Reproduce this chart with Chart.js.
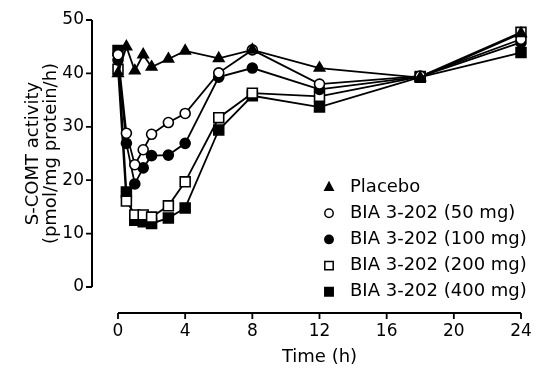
<!DOCTYPE html>
<html>
<head>
<meta charset="utf-8">
<script src="https://cdn.jsdelivr.net/npm/chart.js@4/dist/chart.umd.min.js"></script>
<style>html,body{margin:0;padding:0;background:#fff}</style>
</head>
<body>
<canvas id="graph" width="544" height="373"></canvas>
<script>
// data
const hours = [0, 0.5, 1, 1.5, 2, 3, 4, 6, 8, 12, 18, 24];
const placebo = [40, 45, 40.5, 43.5, 41.2, 42.7, 44.2, 42.8, 44.4, 41, 39.2, 47.5];
const dose50 = [43.5, 28.8, 22.9, 25.7, 28.6, 30.8, 32.5, 40.1, 44.4, 38.0, 39.5, 46.4];
const dose100 = [42.5, 26.9, 19.3, 22.3, 24.6, 24.7, 26.9, 39.3, 41.0, 37.0, 39.4, 45.8];
const dose200 = [40.8, 16.1, 13.5, 13.5, 13.1, 15.2, 19.7, 31.7, 36.3, 35.7, 39.4, 47.7];
const dose400 = [44.3, 17.8, 12.5, 12.2, 11.9, 12.9, 14.8, 29.4, 35.8, 33.7, 39.3, 43.9];
const seriesLabels = ['Placebo', 'BIA 3-202 (50 mg)', 'BIA 3-202 (100 mg)', 'BIA 3-202 (200 mg)', 'BIA 3-202 (400 mg)'];
const xTicks = [0, 4, 8, 12, 16, 20, 24];
const yTicks = [0, 10, 20, 30, 40, 50];

const FONT = '"DejaVu Sans", sans-serif';
const AXIS_GAP = 26; // axes sit away from the plot, Prism style

function pts(vals) {
  return vals.map((v, i) => ({x: hours[i], y: v}));
}

function makeSet(label, vals, style, radius, fill) {
  return {
    label: label,
    data: pts(vals),
    borderColor: '#000',
    borderWidth: 1.8,
    pointStyle: style,
    pointRadius: radius,
    pointHoverRadius: radius,
    pointBackgroundColor: fill,
    pointBorderColor: '#000',
    pointBorderWidth: 1.6,
    tension: 0,
    clip: false
  };
}

// offset axis lines + tick marks, placed with the scales
const axisLines = {
  id: 'axisLines',
  afterDraw(chart) {
    const ctx = chart.ctx;
    const xs = chart.scales.x, ys = chart.scales.y;
    const ax = chart.chartArea.left - AXIS_GAP;
    const ay = chart.chartArea.bottom + AXIS_GAP;
    ctx.save();
    ctx.strokeStyle = '#000';
    ctx.lineWidth = 2;
    ctx.beginPath();
    ctx.moveTo(xs.getPixelForValue(0), ay);
    ctx.lineTo(xs.getPixelForValue(24), ay);
    ctx.moveTo(ax, ys.getPixelForValue(0));
    ctx.lineTo(ax, ys.getPixelForValue(50));
    ctx.stroke();
    ctx.lineWidth = 1.8;
    ctx.beginPath();
    xTicks.forEach(v => {
      const px = xs.getPixelForValue(v);
      ctx.moveTo(px, ay);
      ctx.lineTo(px, ay + 6);
    });
    yTicks.forEach(v => {
      const py = ys.getPixelForValue(v);
      ctx.moveTo(ax, py);
      ctx.lineTo(ax - 6, py);
    });
    ctx.stroke();
    ctx.restore();
  }
};

function drawMarker(ctx, style, x, y, r, fill) {
  ctx.beginPath();
  if (style === 'triangle') {
    ctx.moveTo(x, y - r * 1.1);
    ctx.lineTo(x + r, y + r * 0.8);
    ctx.lineTo(x - r, y + r * 0.8);
    ctx.closePath();
  } else if (style === 'circle') {
    ctx.arc(x, y, r, 0, Math.PI * 2);
  } else {
    ctx.rect(x - r, y - r, r * 2, r * 2);
  }
  ctx.fillStyle = fill;
  ctx.fill();
  ctx.lineWidth = 1.5;
  ctx.strokeStyle = '#000';
  ctx.stroke();
}

const sideLegend = {
  id: 'sideLegend',
  afterDraw(chart) {
    const ctx = chart.ctx;
    ctx.save();
    ctx.font = '18px ' + FONT;
    ctx.textBaseline = 'middle';
    chart.data.datasets.forEach((ds, i) => {
      const y = 187 + i * 26.2;
      drawMarker(ctx, ds.pointStyle, 329, y, 4.2, ds.pointBackgroundColor);
      ctx.fillStyle = '#000';
      ctx.fillText(ds.label, 350, y);
    });
    ctx.restore();
  }
};

function noPad(s) {
  s.paddingTop = 0; s.paddingBottom = 0; s.paddingLeft = 0; s.paddingRight = 0;
}

new Chart('graph', {
  type: 'line',
  data: {
    datasets: [
      makeSet(seriesLabels[0], placebo, 'triangle', 6, '#000'),
      makeSet(seriesLabels[1], dose50, 'circle', 5, '#fff'),
      makeSet(seriesLabels[2], dose100, 'circle', 5, '#000'),
      makeSet(seriesLabels[3], dose200, 'rect', 7, '#fff'),
      makeSet(seriesLabels[4], dose400, 'rect', 7, '#000')
    ]
  },
  options: {
    responsive: false,
    animation: false,
    layout: {padding: {top: 20, right: 23, left: 0, bottom: 0}},
    plugins: {legend: {display: false}, tooltip: {enabled: false}},
    scales: {
      x: {
        type: 'linear',
        min: 0,
        max: 24,
        afterBuildTicks: s => { s.ticks = xTicks.map(v => ({value: v})); },
        afterFit: s => { s.height = 86; noPad(s); },
        border: {display: false},
        grid: {display: false, drawTicks: false},
        ticks: {color: '#000', font: {family: FONT, size: 17}, padding: 34, maxRotation: 0, autoSkip: false},
        title: {display: true, text: 'Time (h)', color: '#000', font: {family: FONT, size: 18}, padding: {top: 0, bottom: 5}}
      },
      y: {
        type: 'linear',
        min: 0,
        max: 50,
        afterBuildTicks: s => { s.ticks = yTicks.map(v => ({value: v})); },
        afterFit: s => { s.width = 118; noPad(s); },
        border: {display: false},
        grid: {display: false, drawTicks: false},
        ticks: {color: '#000', font: {family: FONT, size: 17}, padding: 34},
        title: {display: true, text: ['S-COMT activity', '(pmol/mg protein/h)'], color: '#000', font: {family: FONT, size: 18, lineHeight: 1.03}, padding: {top: 24, bottom: 0}}
      }
    }
  },
  plugins: [axisLines, sideLegend]
});
</script>
</body>
</html>
